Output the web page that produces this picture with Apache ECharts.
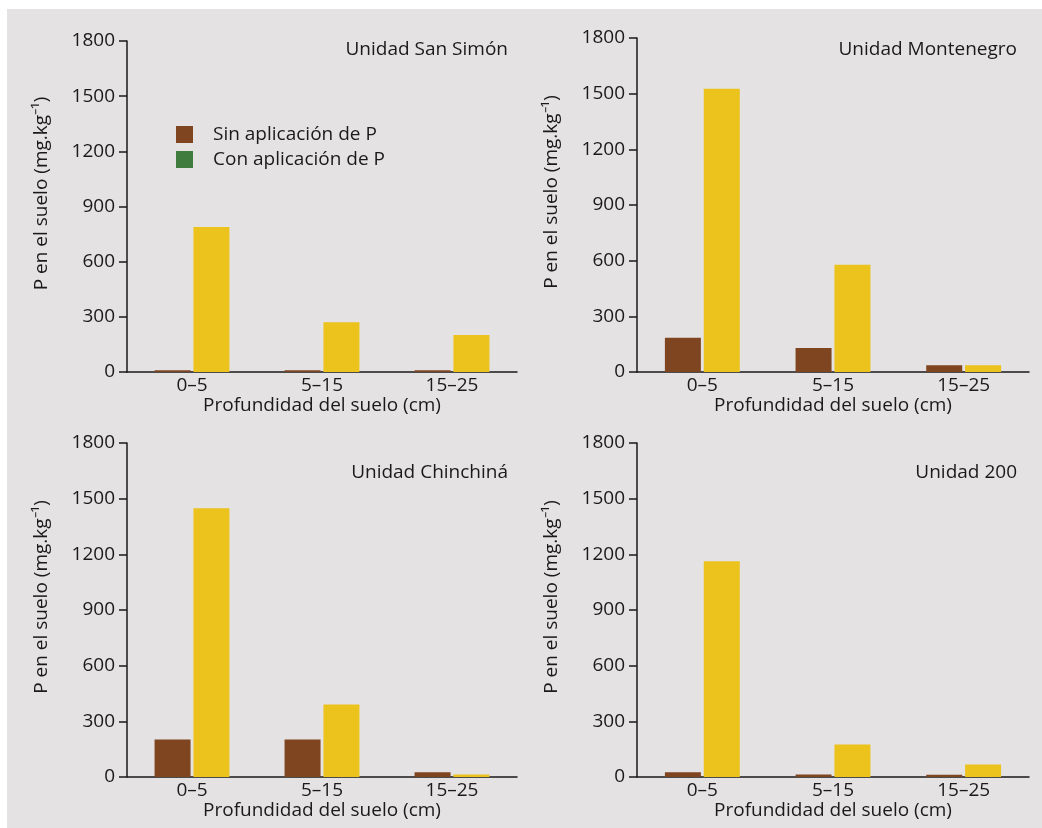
<!DOCTYPE html>
<html><head><meta charset="utf-8">
<style>html,body{margin:0;padding:0;background:#fff}#c{width:1042px;height:828px}</style>
<script src="https://cdn.jsdelivr.net/npm/echarts@6/dist/echarts.min.js"></script>
</head><body><div id="c"></div>
<script>
const categories = ['0–5', '5–15', '15–25'];
const yTicks = [0, 300, 600, 900, 1200, 1500, 1800];
const panelTitles = ['Unidad San Simón', 'Unidad Montenegro', 'Unidad Chinchiná', 'Unidad 200'];
const seriesNames = ['Sin aplicación de P', 'Con aplicación de P'];
// values per panel
const sanSimonSin = [9, 9, 9];
const sanSimonCon = [788, 270, 201];
const montenegroSin = [184, 130, 36];
const montenegroCon = [1527, 578, 36];
const chinchinaSin = [202, 202, 25];
const chinchinaCon = [1449, 391, 14];
const unidad200Sin = [25, 13, 12];
const unidad200Con = [1163, 175, 67];

const sinData = [sanSimonSin, montenegroSin, chinchinaSin, unidad200Sin];
const conData = [sanSimonCon, montenegroCon, chinchinaCon, unidad200Con];

const FONT = 'Open Sans';
const FS = 19;
const BROWN = '#7f4520', YELLOW = '#ecc21c', GREEN = '#3f7c3d', TXT = '#1a1a1a';
const grids = [
  {left: 127, top: 41, width: 390, height: 331},
  {left: 637, top: 38, width: 392, height: 334},
  {left: 127, top: 443, width: 390, height: 334},
  {left: 637, top: 443, width: 392, height: 334}
];
const titlePos = [
  {right: 529, top: 35}, {right: 20, top: 35}, {right: 529, top: 458}, {right: 20, top: 458}
];
const chart = echarts.init(document.getElementById('c'));
const option = {
  backgroundColor: '#ffffff',
  textStyle: {fontFamily: FONT},
  graphic: [{type: 'rect', z: -10, shape: {x: 7, y: 9, width: 1035, height: 819}, style: {fill: '#e4e2e3'}}],
  title: panelTitles.map((t, i) => ({text: t, right: titlePos[i].right, top: titlePos[i].top,
    textStyle: {fontFamily: FONT, fontSize: FS, fontWeight: 'normal', color: TXT}})),
  legend: {
    left: 171, top: 120, orient: 'vertical', itemWidth: 17, itemHeight: 17, itemGap: 6,
    icon: 'rect',
    textStyle: {fontFamily: FONT, fontSize: FS, color: TXT, padding: [0, 0, 0, 15]},
    data: [{name: seriesNames[0], itemStyle: {color: BROWN}}, {name: seriesNames[1], itemStyle: {color: GREEN}}]
  },
  grid: grids,
  xAxis: grids.map((g, i) => ({
    type: 'category', gridIndex: i, data: categories,
    name: 'Profundidad del suelo (cm)', nameLocation: 'middle', nameGap: 24,
    nameTextStyle: {fontFamily: FONT, fontSize: FS, color: TXT},
    axisLine: {lineStyle: {color: TXT, width: 1.5}},
    axisTick: {length: 9, lineStyle: {color: TXT, width: 1.5}},
    axisLabel: {fontFamily: FONT, fontSize: FS, color: TXT, margin: 4}
  })),
  yAxis: grids.map((g, i) => ({
    type: 'value', gridIndex: i, min: yTicks[0], max: yTicks[yTicks.length - 1], interval: 300,
    name: 'P en el suelo (mg.kg⁻¹)', nameLocation: 'middle', nameGap: 76,
    nameTextStyle: {fontFamily: FONT, fontSize: FS, color: TXT, padding: [0, 0, 0, 26]},
    axisLine: {show: true, lineStyle: {color: TXT, width: 1.5}},
    axisTick: {show: true, length: 8, lineStyle: {color: TXT, width: 1.5}},
    axisLabel: {fontFamily: FONT, fontSize: FS, color: TXT, margin: 12, formatter: v => String(v)},
    splitLine: {show: false}
  })),
  series: []
};
for (let i = 0; i < 4; i++) {
  option.series.push({name: seriesNames[0], type: 'bar', xAxisIndex: i, yAxisIndex: i,
    data: sinData[i], barWidth: 36, barGap: '8%', itemStyle: {color: BROWN}});
  option.series.push({name: seriesNames[1], type: 'bar', xAxisIndex: i, yAxisIndex: i,
    data: conData[i], barWidth: 36, barGap: '8%', itemStyle: {color: YELLOW}});
}
chart.setOption(option);
</script></body></html>
